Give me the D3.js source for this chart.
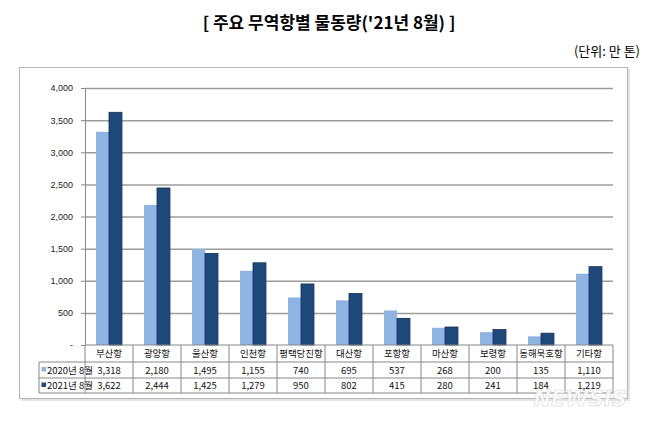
<!DOCTYPE html>
<html>
<head>
<meta charset="utf-8">
<script src="https://d3js.org/d3.v7.min.js"></script>
<style>
body { margin: 0; background: #fff; }
svg { display: block; font-family: "Noto Sans CJK KR", "Noto Sans", sans-serif; }
.grid line { stroke: #9c9c9c; stroke-width: 1.5; }
.grid path { display: none; }
.yaxis text { font-family: "Liberation Sans", sans-serif; font-size: 9px; fill: #222; }
.yaxis path, .yaxis line { stroke: #888; }
.tbl line { stroke: #888; stroke-width: 1; }
.tbl text { font-size: 9.5px; fill: #111; }
</style>
</head>
<body>
<div id="chart"></div>
<script>
var width = 658, height = 421;

// data (unit: 만 톤)
var ports = ["부산항", "광양항", "울산항", "인천항", "평택당진항", "대산항", "포항항", "마산항", "보령항", "동해묵호항", "기타항"];
var seriesNames = ["2020년 8월", "2021년 8월"];
var values2020 = [3318, 2180, 1495, 1155, 740, 695, 537, 268, 200, 135, 1110];
var values2021 = [3622, 2444, 1425, 1279, 950, 802, 415, 280, 241, 184, 1219];
var yTicks = [0, 500, 1000, 1500, 2000, 2500, 3000, 3500, 4000];

var colors = ["#8eb4e3", "#1f497d"];
var series = [values2020, values2021];

var plotLeft = 85, plotRight = 613, plotTop = 88, plotBottom = 345;

var svg = d3.select("#chart").append("svg")
    .attr("width", width).attr("height", height);

// title
svg.append("text")
    .attr("x", 329).attr("y", 29)
    .attr("text-anchor", "middle")
    .attr("font-size", "17px").attr("font-weight", "bold")
    .text("[ 주요 무역항별 물동량('21년 8월) ]");
svg.append("text")
    .attr("x", 640).attr("y", 56)
    .attr("text-anchor", "end")
    .attr("font-size", "13px")
    .text("(단위: 만 톤)");

// frame with light shadow
svg.append("rect")
    .attr("x", 21).attr("y", 69).attr("width", 609).attr("height", 332)
    .attr("fill", "#e4e4e4");
svg.append("rect")
    .attr("x", 19.5).attr("y", 67.5).attr("width", 608).attr("height", 331)
    .attr("fill", "#fff").attr("stroke", "#b5b5b5").attr("stroke-width", 1);

var x = d3.scaleBand().domain(ports).range([plotLeft, plotRight]);
var y = d3.scaleLinear().domain([0, 4000]).range([plotBottom, plotTop]);
var sub = d3.scaleBand().domain([0, 1]).range([0, x.bandwidth()]).paddingOuter(0.85).paddingInner(0);

// gridlines
svg.append("g").attr("class", "grid")
    .attr("transform", "translate(" + plotLeft + ",0)")
    .call(d3.axisRight(y).tickValues(yTicks.slice(1)).tickSize(plotRight - plotLeft).tickFormat(""));

// y axis
svg.append("g").attr("class", "yaxis")
    .attr("transform", "translate(" + plotLeft + ",0)")
    .call(d3.axisLeft(y).tickValues(yTicks).tickSize(4).tickPadding(8)
        .tickFormat(function(d) { return d === 0 ? "-" : d3.format(",")(d); }));

// bars
series.forEach(function(vals, si) {
    svg.append("g").selectAll("rect")
        .data(vals)
        .enter().append("rect")
        .attr("x", function(d, i) { return x(ports[i]) + sub(si); })
        .attr("y", function(d) { return y(d); })
        .attr("width", sub.bandwidth())
        .attr("height", function(d) { return plotBottom - y(d); })
        .attr("fill", colors[si])
        .attr("stroke", si === 1 ? "#162f52" : "none")
        .attr("stroke-width", 0.8);
});

// data table
var rowY = [plotBottom, 362, 378, 393];
var tableLeft = 39;
var tbl = svg.append("g").attr("class", "tbl");

// horizontal lines
tbl.append("line").attr("x1", plotLeft).attr("x2", plotRight).attr("y1", rowY[0]).attr("y2", rowY[0]);
[1, 2, 3].forEach(function(r) {
    tbl.append("line").attr("x1", tableLeft).attr("x2", plotRight).attr("y1", rowY[r]).attr("y2", rowY[r]);
});
// vertical lines
tbl.append("line").attr("x1", tableLeft).attr("x2", tableLeft).attr("y1", rowY[1]).attr("y2", rowY[3]);
ports.forEach(function(p) {
    tbl.append("line").attr("x1", x(p)).attr("x2", x(p)).attr("y1", rowY[0]).attr("y2", rowY[3]);
});
tbl.append("line").attr("x1", plotRight).attr("x2", plotRight).attr("y1", rowY[0]).attr("y2", rowY[3]);

// category labels
tbl.selectAll("text.cat").data(ports).enter().append("text")
    .attr("class", "cat")
    .attr("x", function(d) { return x(d) + x.bandwidth() / 2; })
    .attr("y", (rowY[0] + rowY[1]) / 2 + 3.5)
    .attr("text-anchor", "middle")
    .text(function(d) { return d; });

// value rows
series.forEach(function(vals, si) {
    var cy = (rowY[si + 1] + rowY[si + 2]) / 2 + 3.5;
    tbl.append("rect")
        .attr("x", tableLeft + 2.5).attr("y", cy - 6.5)
        .attr("width", 4.5).attr("height", 4.5)
        .attr("fill", colors[si]);
    tbl.append("text")
        .attr("x", tableLeft + 8).attr("y", cy)
        .attr("font-size", "8.5px")
        .text(seriesNames[si]);
    tbl.selectAll("text.v" + si).data(vals).enter().append("text")
        .attr("class", "v" + si)
        .attr("x", function(d, i) { return x(ports[i]) + x.bandwidth() / 2; })
        .attr("y", cy)
        .attr("text-anchor", "middle")
        .text(function(d) { return d3.format(",")(d); });
});

// watermark
svg.append("text")
    .attr("x", 580).attr("y", 406)
    .attr("text-anchor", "middle")
    .attr("font-family", "'DejaVu Sans', sans-serif")
    .attr("font-size", "21px").attr("font-weight", "bold").attr("font-style", "italic")
    .attr("fill", "#ffffff").attr("fill-opacity", 0.85)
    .attr("stroke", "#d0d0d0").attr("stroke-width", 0.6)
    .text("NEWSIS");
</script>
</body>
</html>
